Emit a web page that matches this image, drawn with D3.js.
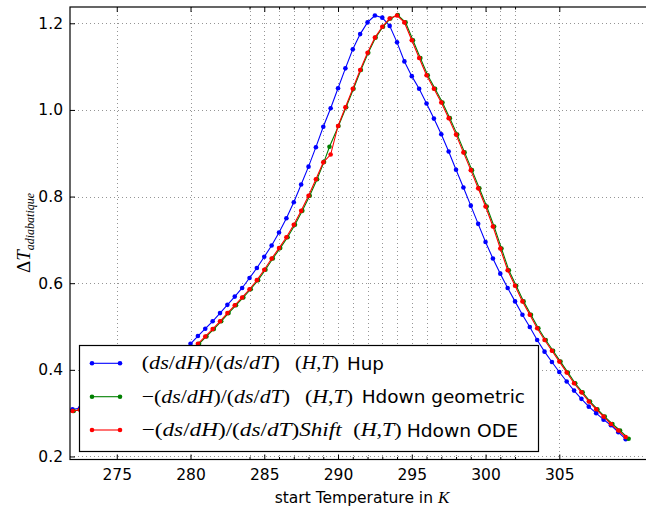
<!DOCTYPE html>
<html>
<head>
<meta charset="utf-8">
<script src="https://cdn.jsdelivr.net/npm/d3@7"></script>
<style>
  html, body { margin: 0; padding: 0; background: #fff; }
  svg { display: block; }
</style>
</head>
<body>
<div id="chart"></div>
<script>
// ---------- data ----------
const temps = [271.5,272,272.5,273,273.5,274,274.5,275,275.5,276,276.5,277,277.5,278,278.5,279,279.5,280,280.5,281,281.5,282,282.5,283,283.5,284,284.5,285,285.5,286,286.5,287,287.5,288,288.5,289,289.5,290,290.5,291,291.5,292,292.5,293,293.5,294,294.5,295,295.5,296,296.5,297,297.5,298,298.5,299,299.5,300,300.5,301,301.5,302,302.5,303,303.5,304,304.5,305,305.5,306,306.5,307,307.5,308,308.5,309,309.5];

const tempsGeometric = [271.58,272.08,272.58,273.08,273.58,274.08,274.58,275.08,275.58,276.08,276.58,277.08,277.58,278.08,278.58,279.08,279.58,280.08,280.58,281.08,281.58,282.08,282.58,283.08,283.58,284.08,284.58,285.08,285.58,286.08,286.58,287.08,287.58,288.08,288.58,289.05,289.42,290.03,290.55,291.05,291.55,292.05,292.55,293.05,293.55,294.05,294.58,295.08,295.58,296.08,296.58,297.08,297.58,298.08,298.58,299.08,299.58,300.08,300.58,301.08,301.58,302.08,302.58,303.08,303.58,304.08,304.58,305.08,305.58,306.08,306.58,307.08,307.58,308.08,308.6,309.12,309.7];

const hupValues = [0.306,0.309,0.311,0.314,0.318,0.322,0.328,0.335,0.343,0.352,0.362,0.373,0.385,0.398,0.412,0.427,0.443,0.460,0.478,0.495,0.512,0.531,0.550,0.569,0.589,0.612,0.635,0.661,0.687,0.717,0.750,0.787,0.828,0.869,0.914,0.961,1.004,1.050,1.096,1.140,1.175,1.202,1.218,1.213,1.194,1.156,1.112,1.078,1.049,1.015,0.980,0.944,0.904,0.862,0.821,0.779,0.737,0.695,0.657,0.622,0.589,0.558,0.527,0.499,0.469,0.442,0.418,0.395,0.373,0.352,0.333,0.315,0.300,0.285,0.272,0.256,0.240];

const geometricValues = [0.302,0.305,0.308,0.310,0.313,0.316,0.320,0.326,0.333,0.342,0.352,0.363,0.375,0.387,0.400,0.414,0.428,0.443,0.460,0.477,0.494,0.512,0.531,0.549,0.567,0.586,0.607,0.631,0.657,0.681,0.706,0.735,0.767,0.802,0.840,0.880,0.915,0.963,1.006,1.049,1.092,1.132,1.167,1.192,1.211,1.219,1.202,1.161,1.120,1.080,1.049,1.017,0.981,0.943,0.902,0.861,0.819,0.777,0.731,0.680,0.630,0.594,0.558,0.527,0.496,0.469,0.444,0.419,0.394,0.369,0.348,0.327,0.309,0.292,0.275,0.260,0.241];

const odeValues = [0.302,0.305,0.308,0.310,0.313,0.316,0.320,0.326,0.333,0.342,0.352,0.363,0.375,0.387,0.400,0.414,0.428,0.443,0.460,0.477,0.494,0.512,0.531,0.549,0.567,0.586,0.607,0.631,0.657,0.681,0.706,0.735,0.767,0.802,0.840,0.879,0.897,0.963,1.006,1.049,1.092,1.132,1.167,1.192,1.211,1.218,1.202,1.161,1.120,1.080,1.049,1.017,0.981,0.943,0.902,0.861,0.819,0.777,0.731,0.680,0.630,0.594,0.558,0.527,0.496,0.469,0.444,0.419,0.394,0.369,0.348,0.327,0.309,0.292,0.275,0.260,0.245];

const seriesNames = ["Hup", "Hdown geometric", "Hdown ODE"];
const seriesColors = ["#0000ff", "#008000", "#ff0000"];

const xMajorTicks = [275, 280, 285, 290, 295, 300, 305];
const xMinorTicks = [284, 286, 287, 288, 289, 291, 292, 293, 294, 296, 297, 298, 299, 301, 302];
const yTicks = [0.2, 0.4, 0.6, 0.8, 1.0, 1.2];
const xDomain = [271.83, 311.42];
const yDomain = [0.193, 1.2376];

// ---------- layout ----------
const W = 646, H = 509;
const plot = { left: 70, right: 654, top: 7, bottom: 459.5 };

const svg = d3.select("#chart").append("svg")
  .attr("width", W).attr("height", H)
  .attr("viewBox", `0 0 ${W} ${H}`);
svg.append("rect").attr("width", W).attr("height", H).attr("fill", "#fff");

const x = d3.scaleLinear().domain(xDomain).range([plot.left, plot.right]);
const y = d3.scaleLinear().domain(yDomain).range([plot.bottom, plot.top]);

svg.append("defs").append("clipPath").attr("id", "clip")
  .append("rect").attr("x", plot.left).attr("y", plot.top)
  .attr("width", plot.right - plot.left).attr("height", plot.bottom - plot.top);

// grid
const grid = svg.append("g").attr("class", "grid")
  .attr("stroke", "#000").attr("stroke-width", 0.6)
  .attr("stroke-dasharray", "1,3").attr("stroke-opacity", 0.7);
grid.selectAll("line.vx").data(xMajorTicks.concat(xMinorTicks)).join("line")
  .attr("x1", d => Math.round(x(d)) + 0.5).attr("x2", d => Math.round(x(d)) + 0.5)
  .attr("y1", plot.top).attr("y2", plot.bottom);
grid.selectAll("line.hy").data(yTicks).join("line")
  .attr("y1", d => Math.round(y(d)) + 0.5).attr("y2", d => Math.round(y(d)) + 0.5)
  .attr("x1", plot.left).attr("x2", plot.right);

// series
const allSeries = [
  { t: temps, v: hupValues },
  { t: tempsGeometric, v: geometricValues },
  { t: temps, v: odeValues }
];
const dataG = svg.append("g").attr("clip-path", "url(#clip)");
allSeries.forEach((s, k) => {
  const pts = s.v.map((v, i) => [s.t[i], v]);
  const g = dataG.append("g");
  g.append("path").datum(pts)
    .attr("d", d3.line().x(d => x(d[0])).y(d => y(d[1])))
    .attr("fill", "none").attr("stroke", seriesColors[k]).attr("stroke-width", 1.1);
  g.selectAll("circle").data(pts).join("circle")
    .attr("cx", d => x(d[0])).attr("cy", d => y(d[1]))
    .attr("r", 2.3).attr("fill", seriesColors[k]);
});

// axes (ticks inward)
const fontSans = "'DejaVu Sans', sans-serif";
const axB = d3.axisBottom(x).tickValues(xMajorTicks).tickSize(-5).tickPadding(9).tickFormat(d3.format("d"));
svg.append("g").attr("transform", `translate(0,${plot.bottom})`).call(axB);
const axBm = d3.axisBottom(x).tickValues(xMinorTicks).tickSize(-2.5).tickFormat("");
svg.append("g").attr("transform", `translate(0,${plot.bottom})`).call(axBm);
const axT = d3.axisTop(x).tickValues(xMajorTicks).tickSize(-5).tickFormat("");
svg.append("g").attr("transform", `translate(0,${plot.top})`).call(axT);
const axTm = d3.axisTop(x).tickValues(xMinorTicks).tickSize(-2.5).tickFormat("");
svg.append("g").attr("transform", `translate(0,${plot.top})`).call(axTm);
const axL = d3.axisLeft(y).tickValues(yTicks).tickSize(-5).tickPadding(7).tickFormat(d3.format(".1f"));
svg.append("g").attr("transform", `translate(${plot.left},0)`).call(axL);

svg.selectAll(".domain").remove();
svg.selectAll(".tick line").attr("stroke", "#000").attr("stroke-width", 1);
svg.selectAll(".tick text").attr("fill", "#000")
  .style("font-family", fontSans).style("font-size", "15.5px");

// spines
svg.append("rect").attr("x", plot.left).attr("y", plot.top)
  .attr("width", plot.right - plot.left).attr("height", plot.bottom - plot.top)
  .attr("fill", "none").attr("stroke", "#000").attr("stroke-width", 1.2);

// axis labels
const xl = svg.append("text").attr("x", 362).attr("y", 503).attr("text-anchor", "middle")
  .style("font-family", fontSans).style("font-size", "15.5px").attr("fill", "#000");
xl.append("tspan").text("start Temperature in ");
xl.append("tspan").text("K").style("font-family", "'Liberation Serif', serif").style("font-style", "italic").style("font-size", "17px");

const yl = svg.append("text").attr("transform", "translate(30,233) rotate(-90)")
  .attr("text-anchor", "middle").attr("fill", "#000")
  .style("font-family", "'Liberation Serif', serif").style("font-size", "19px");
yl.append("tspan").text("Δ");
yl.append("tspan").text("T").style("font-style", "italic");
yl.append("tspan").text("adiabatique").style("font-style", "italic").style("font-size", "12px").attr("dy", 4);

// legend
const leg = svg.append("g");
leg.append("rect").attr("x", 79.5).attr("y", 345.5).attr("width", 459).attr("height", 106)
  .attr("fill", "#fff").attr("stroke", "#000").attr("stroke-width", 1.2);
const rowsY = [363.3, 396.7, 430];
const mathPieces = [
  { pre: "", post: "", w: 138.3 },
  { pre: "−", post: "", w: 148.3 },
  { pre: "−", post: "Shift", w: 200 }
];
const htX = [[295, 44], [305, 48], [353.3, 48.4]];
const nameX = [[347, 37], [361.7, 163.3], [406.7, 111.3]];
seriesNames.forEach((name, k) => {
  const cy = rowsY[k];
  leg.append("line").attr("x1", 92).attr("x2", 120).attr("y1", cy).attr("y2", cy)
    .attr("stroke", seriesColors[k]).attr("stroke-width", 1.1);
  [92, 120].forEach(cx => leg.append("circle").attr("cx", cx).attr("cy", cy).attr("r", 2.3).attr("fill", seriesColors[k]));
  const m = leg.append("text").attr("x", 141.7).attr("y", cy + 6)
    .attr("textLength", mathPieces[k].w).attr("lengthAdjust", "spacingAndGlyphs")
    .style("font-family", "'Liberation Serif', serif").style("font-size", "19px").attr("fill", "#000");
  const parts = [];
  if (mathPieces[k].pre) parts.push([mathPieces[k].pre, false]);
  parts.push(["(", false], ["ds", true], ["/", false], ["dH", true], [")/(", false], ["ds", true], ["/", false], ["dT", true], [")", false]);
  if (mathPieces[k].post) parts.push([mathPieces[k].post, true]);
  parts.forEach(([t, it]) => m.append("tspan").text(t).style("font-style", it ? "italic" : "normal"));
  const ht = leg.append("text").attr("x", htX[k][0]).attr("y", cy + 6)
    .attr("textLength", htX[k][1]).attr("lengthAdjust", "spacingAndGlyphs")
    .style("font-family", "'Liberation Serif', serif").style("font-size", "19px").attr("fill", "#000");
  [["(", false], ["H", true], [",", false], ["T", true], [")", false]].forEach(([t, it]) =>
    ht.append("tspan").text(t).style("font-style", it ? "italic" : "normal"));
  leg.append("text").attr("x", nameX[k][0]).attr("y", cy + 6.5)
    .attr("textLength", nameX[k][1]).attr("lengthAdjust", "spacingAndGlyphs")
    .style("font-family", fontSans).style("font-size", "18px").attr("fill", "#000")
    .text(name);
});
</script>
</body>
</html>
